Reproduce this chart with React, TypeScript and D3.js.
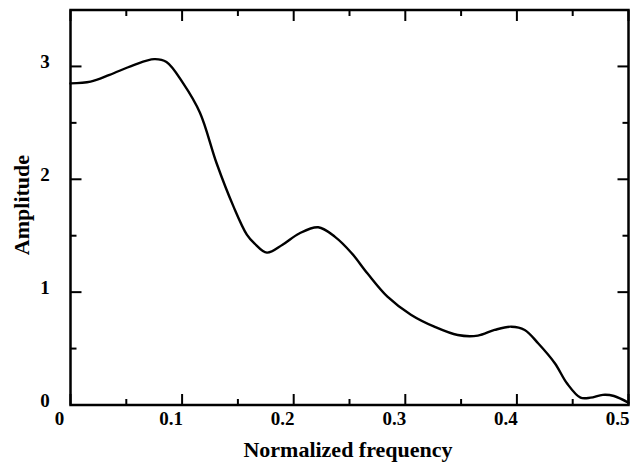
import React from "react";
import * as d3 from "d3";

const freq = [0, 0.018, 0.035, 0.056, 0.075, 0.086, 0.101, 0.116, 0.131, 0.146, 0.158, 0.165, 0.176, 0.19, 0.205, 0.222, 0.237, 0.252, 0.266, 0.284, 0.305, 0.326, 0.347, 0.365, 0.38, 0.395, 0.407, 0.419, 0.434, 0.445, 0.457, 0.466, 0.477, 0.487, 0.5];
const amp = [2.85, 2.865, 2.925, 3.01, 3.065, 3.04, 2.85, 2.59, 2.14, 1.76, 1.51, 1.43, 1.35, 1.42, 1.52, 1.575, 1.49, 1.345, 1.167, 0.96, 0.8, 0.694, 0.62, 0.615, 0.665, 0.694, 0.665, 0.547, 0.37, 0.19, 0.065, 0.065, 0.09, 0.08, 0.02];

const xMajor = [0, 0.1, 0.2, 0.3, 0.4, 0.5];
const xMinor = [0.05, 0.15, 0.25, 0.35, 0.45];
const xLabels = ["0", "0.1", "0.2", "0.3", "0.4", "0.5"];
const yMajor = [0, 1, 2, 3];
const yMinor = [0.5, 1.5, 2.5];
const yLabels = ["0", "1", "2", "3"];

const W = 638;
const H = 463;
const L = 70.5, R = 628.5, T = 10, B = 405;

export default function App() {
  const x = d3.scaleLinear().domain([0, 0.5]).range([L, R]);
  const y = d3.scaleLinear().domain([0, 3.5]).range([B, T]);
  const pts: [number, number][] = freq.map((f, i) => [f, amp[i]]);
  const line = d3
    .line<[number, number]>()
    .x((d) => x(d[0]))
    .y((d) => y(d[1]))
    .curve(d3.curveCatmullRom.alpha(0.5));

  const major = 11;
  const minor = 6;
  const font = "'Liberation Serif', 'Times New Roman', serif";

  return (
    <svg
      width={W}
      height={H}
      style={{ position: "absolute", left: 0, top: 0, background: "#fff" }}
    >
      <rect x={0} y={0} width={W} height={H} fill="#fff" />
      <g stroke="#000" strokeWidth={2}>
        {xMajor.map((v) => (
          <g key={"xm" + v}>
            <line x1={x(v)} x2={x(v)} y1={B} y2={B - major} />
            <line x1={x(v)} x2={x(v)} y1={T} y2={T + major} />
          </g>
        ))}
        {xMinor.map((v) => (
          <g key={"xn" + v}>
            <line x1={x(v)} x2={x(v)} y1={B} y2={B - minor} />
            <line x1={x(v)} x2={x(v)} y1={T} y2={T + minor} />
          </g>
        ))}
        {yMajor.map((v) => (
          <g key={"ym" + v}>
            <line x1={L} x2={L + major} y1={y(v)} y2={y(v)} />
            <line x1={R} x2={R - major} y1={y(v)} y2={y(v)} />
          </g>
        ))}
        {yMinor.map((v) => (
          <g key={"yn" + v}>
            <line x1={L} x2={L + minor} y1={y(v)} y2={y(v)} />
            <line x1={R} x2={R - minor} y1={y(v)} y2={y(v)} />
          </g>
        ))}
      </g>
      <rect
        x={L}
        y={T}
        width={R - L}
        height={B - T}
        fill="none"
        stroke="#000"
        strokeWidth={2.5}
      />
      <path
        d={line(pts) || ""}
        fill="none"
        stroke="#000"
        strokeWidth={2.4}
        strokeLinejoin="round"
        strokeLinecap="round"
      />
      <g fontFamily={font} fontWeight="bold" fontSize={19} fill="#000">
        {xMajor.map((v, i) => (
          <text key={"xl" + v} x={x(v) - 11} y={425} textAnchor="middle">
            {xLabels[i]}
          </text>
        ))}
        {yMajor.map((v, i) => (
          <text key={"yl" + v} x={45} y={y(v) + 2} textAnchor="middle">
            {yLabels[i]}
          </text>
        ))}
      </g>
      <text
        x={348}
        y={457}
        textAnchor="middle"
        fontFamily={font}
        fontWeight="bold"
        fontSize={22}
        fill="#000"
      >
        Normalized frequency
      </text>
      <text
        transform="translate(29,205) rotate(-90)"
        textAnchor="middle"
        fontFamily={font}
        fontWeight="bold"
        fontSize={22}
        fill="#000"
      >
        Amplitude
      </text>
    </svg>
  );
}
